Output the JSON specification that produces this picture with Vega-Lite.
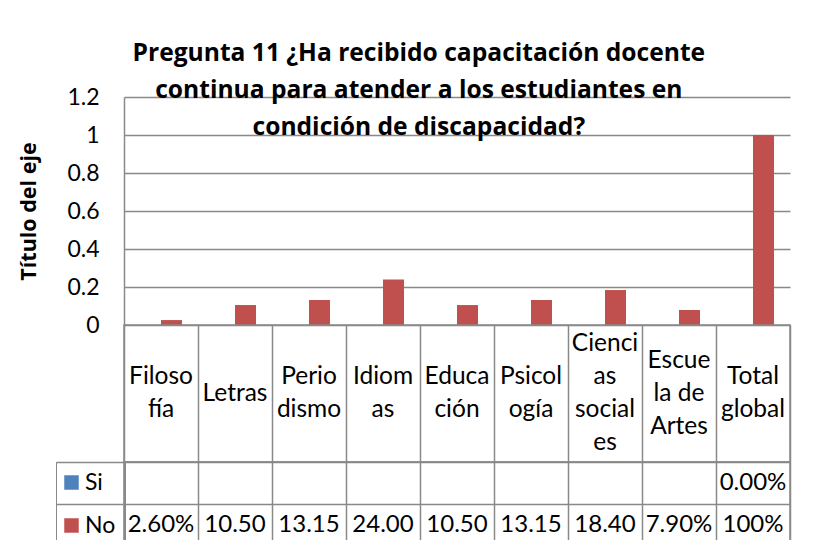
{
  "$schema": "https://vega.github.io/schema/vega-lite/v6.json",
  "autosize": {"type": "pad"},
  "padding": {"left": 18, "top": 41, "right": 10, "bottom": 0},
  "background": "white",
  "datasets": {
    "datos": [
      {"categoria": "Filosofía", "serie": "Si", "valor": null, "texto": ""},
      {"categoria": "Filosofía", "serie": "No", "valor": 0.026, "texto": "2.60%"},
      {"categoria": "Letras", "serie": "Si", "valor": null, "texto": ""},
      {"categoria": "Letras", "serie": "No", "valor": 0.105, "texto": "10.50"},
      {"categoria": "Periodismo", "serie": "Si", "valor": null, "texto": ""},
      {"categoria": "Periodismo", "serie": "No", "valor": 0.1315, "texto": "13.15"},
      {"categoria": "Idiomas", "serie": "Si", "valor": null, "texto": ""},
      {"categoria": "Idiomas", "serie": "No", "valor": 0.24, "texto": "24.00"},
      {"categoria": "Educación", "serie": "Si", "valor": null, "texto": ""},
      {"categoria": "Educación", "serie": "No", "valor": 0.105, "texto": "10.50"},
      {"categoria": "Psicología", "serie": "Si", "valor": null, "texto": ""},
      {"categoria": "Psicología", "serie": "No", "valor": 0.1315, "texto": "13.15"},
      {"categoria": "Ciencias sociales", "serie": "Si", "valor": null, "texto": ""},
      {"categoria": "Ciencias sociales", "serie": "No", "valor": 0.184, "texto": "18.40"},
      {"categoria": "Escuela de Artes", "serie": "Si", "valor": null, "texto": ""},
      {"categoria": "Escuela de Artes", "serie": "No", "valor": 0.079, "texto": "7.90%"},
      {"categoria": "Total global", "serie": "Si", "valor": 0, "texto": "0.00%"},
      {"categoria": "Total global", "serie": "No", "valor": 1, "texto": "100%"}
    ],
    "categorias": [
      {"categoria": "Filosofía", "etiqueta": ["Filoso", "fía"]},
      {"categoria": "Letras", "etiqueta": ["Letras"]},
      {"categoria": "Periodismo", "etiqueta": ["Perio", "dismo"]},
      {"categoria": "Idiomas", "etiqueta": ["Idiom", "as"]},
      {"categoria": "Educación", "etiqueta": ["Educa", "ción"]},
      {"categoria": "Psicología", "etiqueta": ["Psicol", "ogía"]},
      {"categoria": "Ciencias sociales", "etiqueta": ["Cienci", "as", "social", "es"]},
      {"categoria": "Escuela de Artes", "etiqueta": ["Escue", "la de", "Artes"]},
      {"categoria": "Total global", "etiqueta": ["Total", "global"]}
    ]
  },
  "title": {
    "text": ["Pregunta 11 ¿Ha recibido capacitación docente", "continua para atender a los estudiantes en", "condición de discapacidad?"],
    "font": "Open Sans",
    "fontSize": 24.6,
    "fontWeight": "bold",
    "color": "#000000",
    "lineHeight": 37,
    "anchor": "middle",
    "offset": -55,
    "dx": 14
  },
  "spacing": 0,
  "bounds": "flush",
  "vconcat": [
    {
      "width": 666,
      "height": 228,
      "view": {"stroke": null},
      "data": {"name": "datos"},
      "mark": {"type": "bar"},
      "encoding": {
        "x": {"field": "categoria", "type": "nominal", "sort": null, "scale": {"paddingInner": 0.432, "paddingOuter": 0.216}, "axis": null},
        "xOffset": {"field": "serie", "type": "nominal", "sort": ["Si", "No"], "scale": {"paddingInner": 0, "paddingOuter": 0}},
        "y": {
          "field": "valor", "type": "quantitative",
          "scale": {"domain": [0, 1.2], "nice": false},
          "axis": {
            "values": [0, 0.2, 0.4, 0.6, 0.8, 1, 1.2],
            "format": "~g",
            "title": "Título del eje",
            "titleFont": "Open Sans", "titleFontSize": 21.5, "titleFontWeight": "bold", "titleColor": "#000000",
            "titlePadding": 26,
            "labelFont": "Lato", "labelFontSize": 23, "labelColor": "#000000", "labelPadding": 25,
            "ticks": false, "tickSize": 0,
            "grid": true, "gridColor": "#898989", "gridWidth": 1.5,
            "domain": true, "domainColor": "#898989", "domainWidth": 1.5
          }
        },
        "color": {
          "field": "serie", "type": "nominal",
          "scale": {"domain": ["Si", "No"], "range": ["#4F81BD", "#C0504D"]},
          "legend": {
            "orient": "none", "legendX": -68, "legendY": 365, "title": null,
            "direction": "vertical",
            "symbolType": "square", "symbolSize": 210, "symbolStrokeWidth": 0, "symbolOffset": -5,
            "labelFont": "Lato", "labelFontSize": 23, "labelColor": "#000000", "labelOffset": 2,
            "padding": 9, "rowPadding": 19,
            "strokeColor": "#898989"
          }
        }
      }
    },
    {
      "width": 666,
      "height": 137,
      "data": {"name": "categorias"},
      "mark": {"type": "text", "font": "Lato", "fontSize": 24.5, "lineHeight": 33, "baseline": "middle", "color": "#000000",
        "dy": {"expr": "-(length(datum.etiqueta) - 1) * 16.5"}},
      "encoding": {
        "x": {"field": "categoria", "type": "nominal", "sort": null, "scale": {"paddingInner": 0, "paddingOuter": 0},
          "axis": {"grid": true, "tickBand": "extent", "labels": false, "ticks": false, "domain": false, "title": null, "gridColor": "#898989", "gridWidth": 1.5}},
        "text": {"field": "etiqueta"}
      }
    },
    {
      "width": 666,
      "height": 84,
      "data": {"name": "datos"},
      "mark": {"type": "text", "font": "Lato", "fontSize": 24, "baseline": "middle", "color": "#000000"},
      "encoding": {
        "x": {"field": "categoria", "type": "nominal", "sort": null, "scale": {"paddingInner": 0, "paddingOuter": 0},
          "axis": {"grid": true, "tickBand": "extent", "labels": false, "ticks": false, "domain": false, "title": null, "gridColor": "#898989", "gridWidth": 1.5}},
        "y": {"field": "serie", "type": "nominal", "sort": ["Si", "No"], "scale": {"paddingInner": 0, "paddingOuter": 0},
          "axis": {"grid": true, "tickBand": "extent", "labels": false, "ticks": true, "tickSize": 68, "tickColor": "#898989", "tickWidth": 1.5, "domain": false, "title": null, "gridColor": "#898989", "gridWidth": 1.5}},
        "text": {"field": "texto"}
      }
    }
  ],
  "config": {
    "font": "Lato",
    "view": {"stroke": "#898989", "strokeWidth": 1.5}
  }
}
